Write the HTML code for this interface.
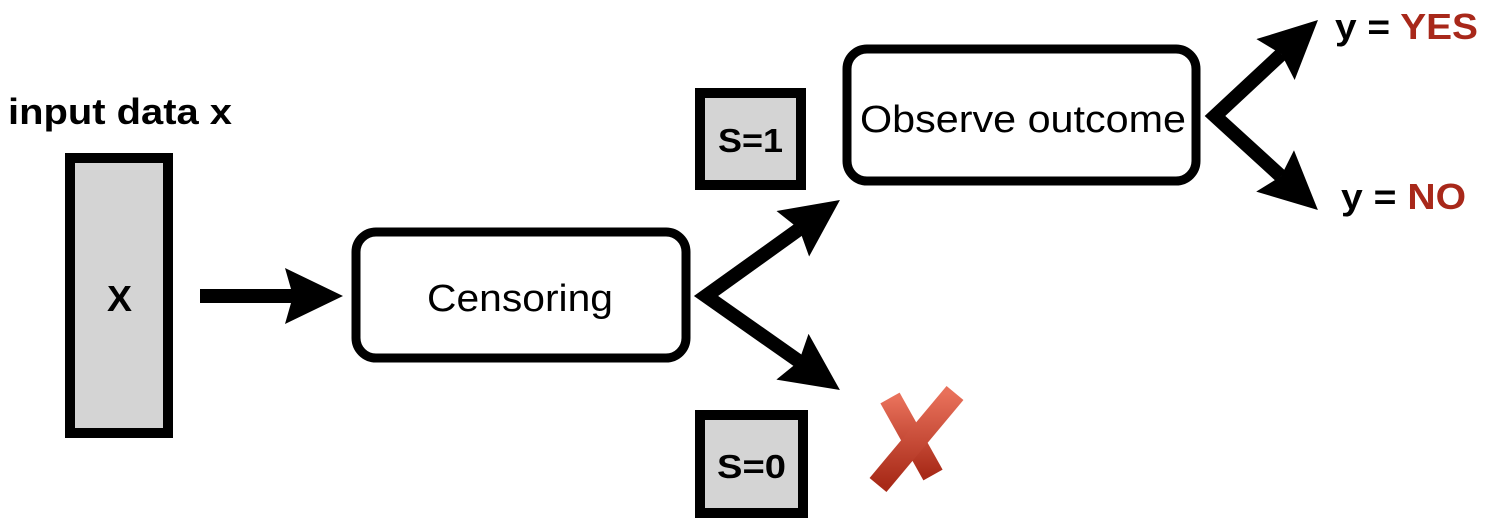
<!DOCTYPE html>
<html><head><meta charset="utf-8"><style>
html,body{margin:0;padding:0;background:#fff;}
svg{display:block;}
text{font-family:"Liberation Sans",Arial,sans-serif;}
</style></head><body>
<svg width="1485" height="523" viewBox="0 0 1485 523" xmlns="http://www.w3.org/2000/svg">
<defs>
<marker id="ah" markerUnits="userSpaceOnUse" markerWidth="70" markerHeight="70" refX="8" refY="28" orient="auto">
<polygon points="0,0 58,28 0,56 8,28" fill="#000"/>
</marker>
<marker id="ahs" markerUnits="userSpaceOnUse" markerWidth="70" markerHeight="70" refX="8" refY="28" orient="auto-start-reverse">
<polygon points="0,0 58,28 0,56 8,28" fill="#000"/>
</marker>
<linearGradient id="xg" x1="0" y1="0" x2="0" y2="1">
<stop offset="0" stop-color="#e8705a"/><stop offset="1" stop-color="#a82a18"/>
</linearGradient>
</defs>
<text x="8" y="124" font-size="36" font-weight="bold" textLength="224" lengthAdjust="spacingAndGlyphs">input data x</text>
<rect x="70" y="158" width="98" height="275" fill="#d4d4d4" stroke="#000" stroke-width="10"/>
<text x="107" y="311" font-size="36" font-weight="bold" textLength="25" lengthAdjust="spacingAndGlyphs">X</text>
<line x1="200" y1="296" x2="293" y2="296" stroke="#000" stroke-width="14" marker-end="url(#ah)"/>
<rect x="356" y="232" width="330" height="126" rx="20" fill="#fff" stroke="#000" stroke-width="9"/>
<text x="427" y="311" font-size="38" textLength="186" lengthAdjust="spacingAndGlyphs">Censoring</text>
<path d="M799.3,229.1 L706,296 L799,361.3" fill="none" stroke="#000" stroke-width="14" stroke-linejoin="miter" stroke-miterlimit="10" marker-start="url(#ahs)" marker-end="url(#ah)"/>
<rect x="700" y="93" width="101" height="92" fill="#d4d4d4" stroke="#000" stroke-width="10"/>
<text x="718" y="152" font-size="33" font-weight="bold" textLength="65" lengthAdjust="spacingAndGlyphs">S=1</text>
<rect x="700" y="415" width="103" height="98" fill="#d4d4d4" stroke="#000" stroke-width="10"/>
<text x="717" y="478" font-size="33" font-weight="bold" textLength="69" lengthAdjust="spacingAndGlyphs">S=0</text>
<rect x="847" y="49" width="349" height="132" rx="20" fill="#fff" stroke="#000" stroke-width="9"/>
<text x="860" y="132" font-size="38" textLength="326" lengthAdjust="spacingAndGlyphs">Observe outcome</text>
<path d="M1281.4,54.1 L1215,116 L1281,176.3" fill="none" stroke="#000" stroke-width="14" stroke-linejoin="miter" stroke-miterlimit="10" marker-start="url(#ahs)" marker-end="url(#ah)"/>
<text x="1335" y="39" font-size="36" font-weight="bold" textLength="143" lengthAdjust="spacingAndGlyphs">y = <tspan fill="#a8281a">YES</tspan></text>
<text x="1341" y="209" font-size="36" font-weight="bold" textLength="125" lengthAdjust="spacingAndGlyphs">y = <tspan fill="#a8281a">NO</tspan></text>
<g stroke="url(#xg)" stroke-width="22" stroke-linecap="butt">
<line x1="890" y1="398" x2="933" y2="475"/>
<line x1="955" y1="393" x2="878" y2="485"/>
</g>
</svg>
</body></html>
